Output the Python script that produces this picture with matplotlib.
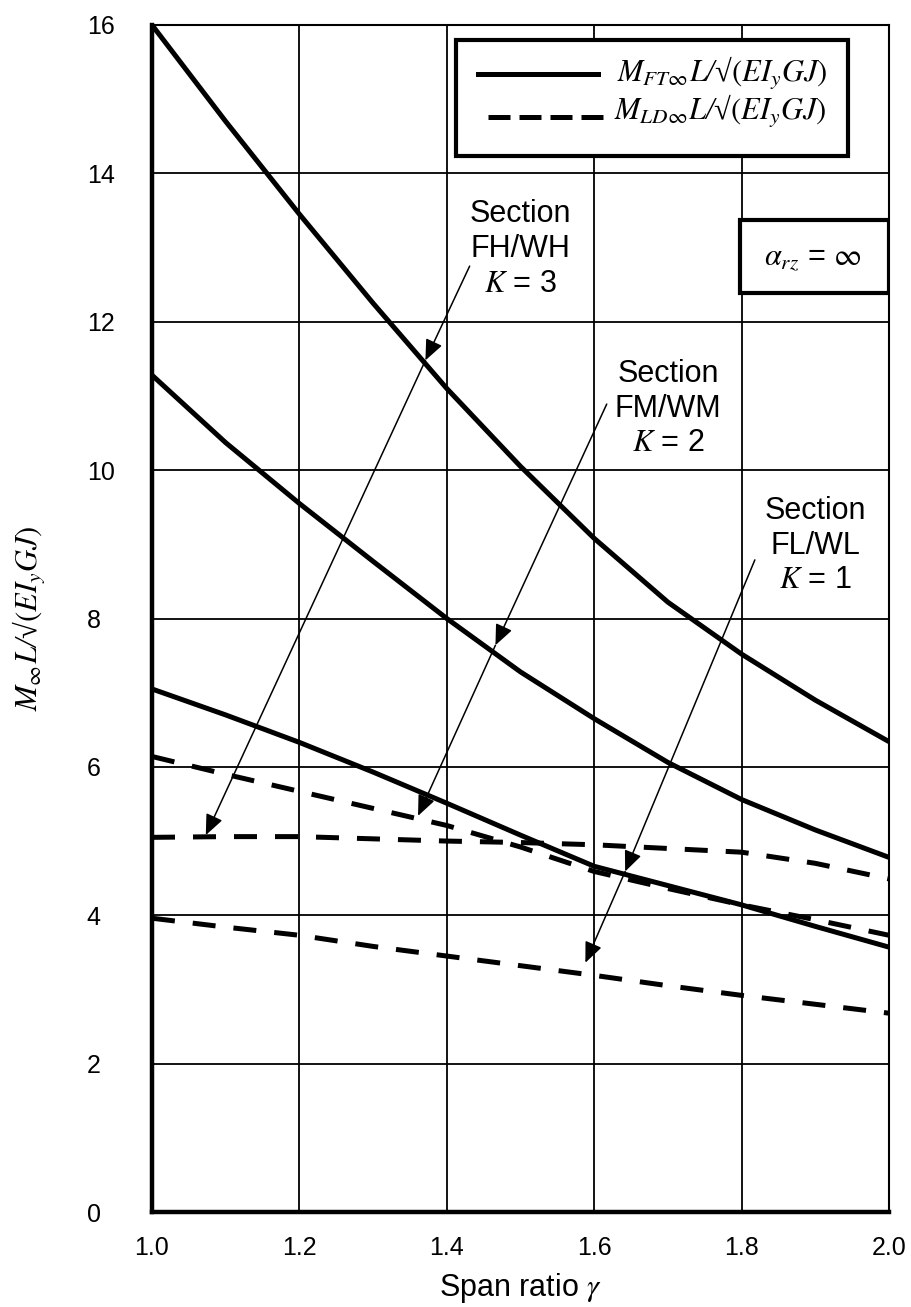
import numpy as np
import matplotlib
matplotlib.use('Agg')
import matplotlib.pyplot as plt
from matplotlib.patches import Rectangle
from matplotlib.lines import Line2D

plt.rcParams['font.family'] = ['Liberation Sans', 'DejaVu Sans']
plt.rcParams['mathtext.fontset'] = 'stix'

# span ratio
gamma = [1.0, 1.1, 1.2, 1.3, 1.4, 1.5, 1.6, 1.7, 1.8, 1.9, 2.0]

# M_FT_inf L / sqrt(EIy GJ)  (solid)
ft_k3 = [16.0, 14.7, 13.45, 12.25, 11.1, 10.05, 9.08, 8.22, 7.52, 6.9, 6.34]
ft_k2 = [11.28, 10.37, 9.55, 8.77, 8.0, 7.28, 6.65, 6.06, 5.56, 5.15, 4.78]
ft_k1 = [7.05, 6.7, 6.33, 5.93, 5.51, 5.08, 4.66, 4.40, 4.14, 3.85, 3.57]

# M_LD_inf L / sqrt(EIy GJ)  (dashed)
ld_k3 = [5.05, 5.06, 5.06, 5.03, 5.0, 4.98, 4.95, 4.9, 4.85, 4.7, 4.49]
ld_k2 = [6.14, 5.9, 5.67, 5.44, 5.21, 4.92, 4.59, 4.36, 4.14, 3.94, 3.73]
ld_k1 = [3.96, 3.84, 3.73, 3.58, 3.45, 3.32, 3.19, 3.05, 2.92, 2.80, 2.68]

xticks = [1.0, 1.2, 1.4, 1.6, 1.8, 2.0]
yticks = [0, 2, 4, 6, 8, 10, 12, 14, 16]

# section labels: (text, centre, arrow start, first tip, second tip)
sections = [
    ('Section\nFH/WH\n$K$ = 3', (1.50, 12.98), (1.431, 12.75), (1.371, 11.48), (1.073, 5.08)),
    ('Section\nFM/WM\n$K$ = 2', (1.70, 10.83), (1.617, 10.89), (1.466, 7.64), (1.361, 5.34)),
    ('Section\nFL/WL\n$K$ = 1', (1.90, 8.98), (1.818, 8.79), (1.642, 4.59), (1.588, 3.36)),
]

serif = dict(family=['Liberation Serif', 'DejaVu Serif'], style='italic')

fig = plt.figure(figsize=(9.12, 13.07), dpi=100)
ax = fig.add_axes([152/912, 1-1212/1307, (889-152)/912, (1212-25)/1307])

lw = 3.6
dash = (4.6, 3.6)
for y in (ft_k3, ft_k2, ft_k1):
    ax.plot(gamma, y, color='black', lw=lw, solid_capstyle='butt',
            solid_joinstyle='round', zorder=3)
for y in (ld_k3, ld_k2, ld_k1):
    ax.plot(gamma, y, color='black', lw=lw, dashes=dash, dash_capstyle='butt', zorder=3)

ax.set_xlim(1.0, 2.0)
ax.set_ylim(0, 16)
ax.set_xticks(xticks)
ax.set_xticklabels([f'{v:.1f}' for v in xticks])
ax.set_yticks(yticks)
ax.tick_params(length=0, labelsize=18)
ax.tick_params(axis='x', pad=17)
ax.tick_params(axis='y', pad=47)
for t in ax.get_yticklabels():
    t.set_horizontalalignment('left')
ax.grid(True, color='black', lw=1.3)
ax.set_axisbelow(True)
for s in ('left', 'bottom'):
    ax.spines[s].set_linewidth(3.2)
for s in ('top', 'right'):
    ax.spines[s].set_linewidth(1.5)

ax.set_xlabel(r'Span ratio $\gamma$', fontsize=22, labelpad=8)
ax.set_ylabel(r'$M_{\infty}L$/√$(EI_yGJ)$', fontsize=22, **serif)
ax.yaxis.set_label_coords(-0.141, 0.5)

# legend box
ax.add_patch(Rectangle((0.413, 0.890), 0.531, 0.097, transform=ax.transAxes,
                       facecolor='white', edgecolor='black', lw=3, zorder=5))
ax.add_line(Line2D([0.442, 0.605], [0.959, 0.959], transform=ax.transAxes,
                   color='black', lw=lw, zorder=6))
ax.add_line(Line2D([0.456, 0.619], [0.9225, 0.9225], transform=ax.transAxes,
                   color='black', lw=lw, dashes=(4.4, 1.8), zorder=6))
ax.text(0.916, 0.9519, r'$M_{FT\infty}L$/√$(EI_yGJ)$', transform=ax.transAxes,
        fontsize=22, va='baseline', ha='right', zorder=6, **serif)
ax.text(0.916, 0.9199, r'$M_{LD\infty}L$/√$(EI_yGJ)$', transform=ax.transAxes,
        fontsize=22, va='baseline', ha='right', zorder=6, **serif)

# alpha box
ax.add_patch(Rectangle((0.798, 0.774), 0.202, 0.062, transform=ax.transAxes,
                       facecolor='white', edgecolor='black', lw=3, zorder=5))
ax.text(0.897, 0.804, r'$\alpha_{rz}$ = $\infty$', transform=ax.transAxes,
        fontsize=22, va='center', ha='center', zorder=6)

ap = dict(arrowstyle='-|>,head_length=0.7,head_width=0.3', color='black', lw=1.1,
          mutation_scale=18, shrinkA=0, shrinkB=0)
for label, centre, start, tip1, tip2 in sections:
    ax.text(centre[0], centre[1], label, fontsize=22, ha='center', va='center',
            linespacing=1.2, zorder=6)
    ax.annotate('', xy=tip1, xytext=start, arrowprops=ap, zorder=4)
    ax.annotate('', xy=tip2, xytext=tip1, arrowprops=ap, zorder=4)

fig.savefig('out.png', dpi=100)
